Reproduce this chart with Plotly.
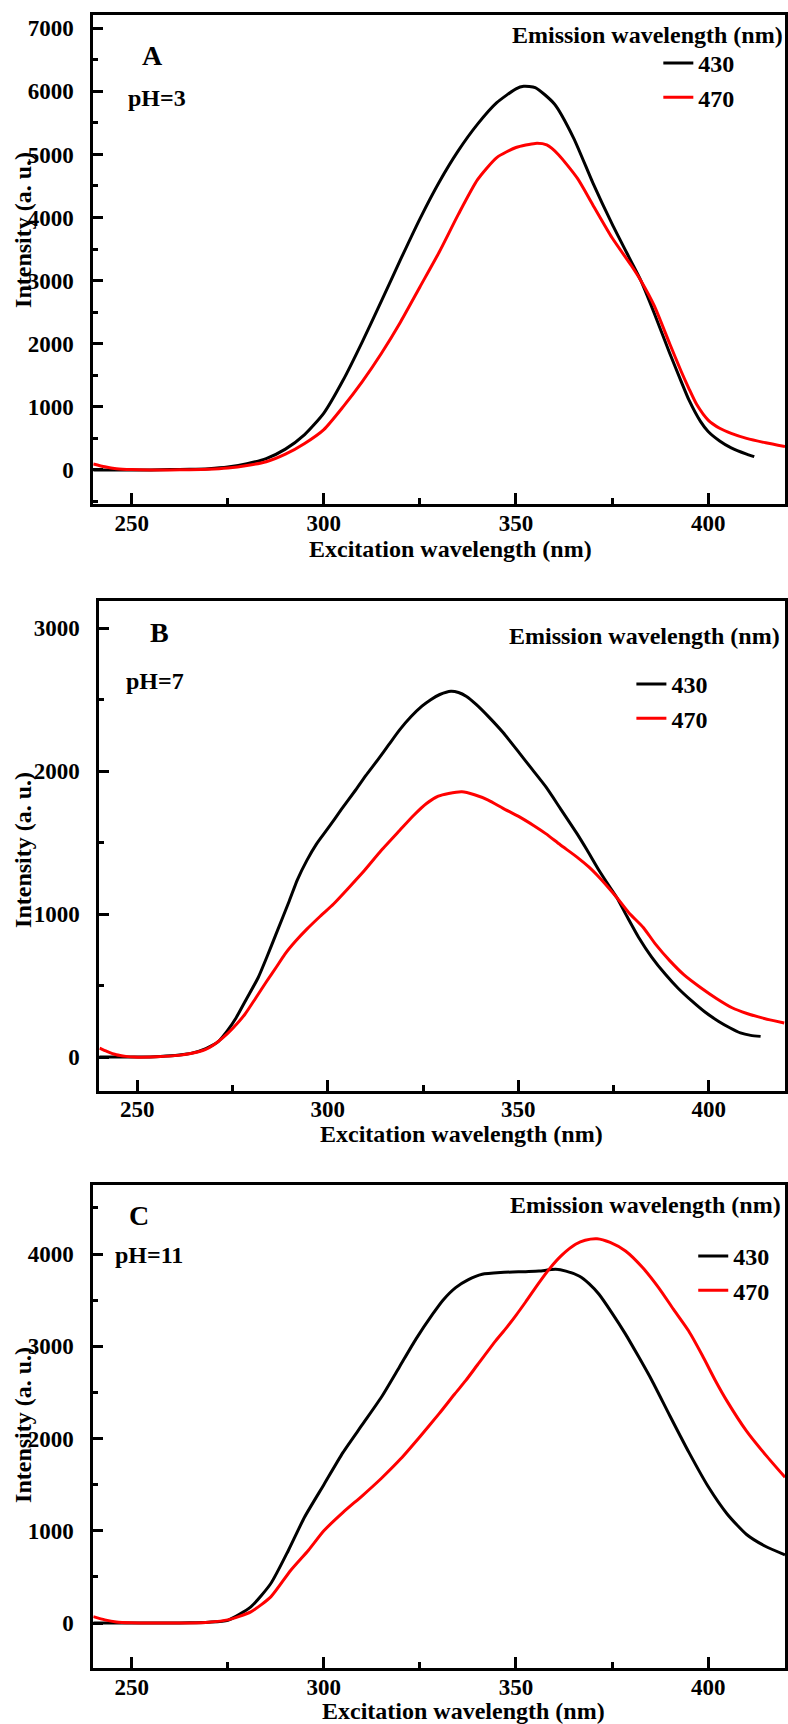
import plotly.graph_objects as go

W, H = 788, 1724
FONT = "Liberation Serif, Times New Roman, serif"

# ---------------- data ----------------
# Panel A, pH = 3
A_x_430 = [240, 245, 250, 255, 260, 265, 270, 275, 280, 285, 290, 295, 300, 305, 310, 315, 320, 325, 330, 335,
           340, 345, 350, 352, 355, 360, 365, 370, 375, 380, 382.5, 386, 390, 393, 395, 398, 400, 403, 406, 410, 412]
A_y_430 = [0, 0, 0, 0, 5, 10, 20, 45, 100, 180, 330, 560, 900, 1420, 2030, 2680, 3340, 3980, 4560, 5060,
           5480, 5820, 6040, 6080, 6060, 5800, 5260, 4550, 3900, 3300, 3000, 2480, 1850, 1400, 1110, 770, 610, 460, 350, 250, 210]
A_x_470 = [240, 243, 246, 250, 255, 260, 265, 270, 275, 280, 285, 290, 295, 300, 305, 310, 315, 320, 325, 330,
           335, 340, 345, 350, 355, 358, 361, 366, 370, 375, 380, 382.5, 386, 390, 393, 395, 397, 400, 403, 406, 410, 415, 420]
A_y_470 = [95, 50, 20, 5, 0, 0, 3, 10, 30, 70, 130, 250, 420, 640, 1000, 1400, 1850, 2350, 2900, 3450,
           4050, 4600, 4950, 5110, 5175, 5150, 5000, 4620, 4200, 3680, 3240, 3000, 2600, 2000, 1560, 1290, 1040, 790, 660, 580, 500, 430, 370]

# Panel B, pH = 7
B_x_430 = [240, 245, 250, 256, 261, 264.3, 268, 271.3, 273.5, 275.9, 278.5, 281.7, 284, 286.4, 289.9, 292, 294.5, 297,
           300.3, 303.5, 307.3, 310, 313.1, 316, 318.9, 321.8, 324.7, 327, 329.4, 332.3, 334.3, 336.3, 339, 342.1, 346,
           350.3, 353.7, 357.2, 361, 365.4, 368, 371.2, 373.5, 375.8, 378.5, 381.6, 385, 388.6, 392, 395.6, 399, 402.5,
           405.5, 408.3, 411, 413.6]
B_y_430 = [0, 0, 0, 5, 15, 28, 60, 110, 180, 274, 400, 555, 700, 860, 1094, 1240, 1376, 1490,
           1610, 1730, 1868, 1970, 2079, 2185, 2290, 2380, 2454, 2500, 2536, 2559, 2550, 2524, 2465, 2383, 2270,
           2126, 2010, 1891, 1740, 1563, 1450, 1305, 1210, 1118, 985, 837, 700, 579, 480, 391, 315, 251,
           205, 169, 152, 145]
B_x_470 = [240.1, 242, 244.5, 247, 249.2, 255, 260.8, 264, 267.8, 270, 272.4, 275, 278.2, 281, 284, 286.5, 288.7, 291.5,
           294.5, 298, 301.5, 305.5, 309.6, 314, 318.9, 322.5, 325.9, 329, 331.7, 335.2, 338.5, 342.1, 346, 350.3, 354,
           357.2, 361, 365.4, 368.5, 371.2, 373.5, 375.8, 379, 382.8, 386, 389.8, 393.5, 397.9, 402, 406.1, 410, 414,
           417, 419.8]
B_y_470 = [63, 40, 16, 5, 0, 3, 12, 25, 52, 85, 134, 200, 298, 410, 532, 630, 719, 810,
           895, 985, 1071, 1185, 1305, 1445, 1587, 1690, 1774, 1825, 1844, 1856, 1835, 1798, 1740, 1680, 1620,
           1563, 1485, 1399, 1330, 1258, 1190, 1118, 1010, 907, 790, 673, 575, 485, 410, 345, 305, 274,
           255, 239]

# Panel C, pH = 11
C_x_430 = [240, 245, 250, 255, 260, 265, 270, 275, 281, 286.2, 290.8, 295, 300, 305, 310, 315, 319.6, 324, 328.3, 331,
           334.3, 337.5, 341.2, 346, 352.5, 356, 360.3, 363, 366.4, 369, 371.6, 375, 378.5, 382, 385.4, 390, 395,
           400, 405, 410, 415, 420]
C_y_430 = [0, 0, 0, 0, 0, 3, 10, 30, 176, 429, 790, 1150, 1500, 1850, 2150, 2450, 2771, 3080, 3348, 3500,
           3636, 3720, 3781, 3800, 3809, 3815, 3834, 3815, 3762, 3680, 3564, 3360, 3132, 2880, 2627, 2250, 1850,
           1480, 1180, 960, 830, 740]
C_x_470 = [240, 243, 246, 250, 255, 260, 265, 270, 275, 281, 286.2, 291.4, 296, 300, 305, 310, 315, 320, 325, 330,
           334, 336.9, 340, 344.7, 347.5, 349.9, 352.5, 355.5, 358.6, 362, 365.5, 368, 371.1, 374.5, 378.5, 383,
           387.1, 391, 394.9, 398.5, 401.9, 405, 410, 415, 420]
C_y_470 = [70, 35, 12, 3, 0, 0, 2, 10, 35, 122, 284, 573, 790, 1000, 1200, 1380, 1570, 1780, 2020, 2270,
           2480, 2627, 2800, 3059, 3200, 3330, 3480, 3660, 3834, 3990, 4105, 4150, 4166, 4125, 4032, 3850,
           3636, 3400, 3168, 2900, 2627, 2400, 2080, 1820, 1580]

series_names = ["430", "470"]
series_colors = ["#000000", "#ff0000"]
panel_labels = ["A", "B", "C"]
ph_labels = ["pH=3", "pH=7", "pH=11"]
legend_title = "Emission wavelength (nm)"
x_title = "Excitation wavelength (nm)"
y_title = "Intensity (a. u.)"
x_tickvals = [250, 300, 350, 400]
y_tickvals = [[0, 1000, 2000, 3000, 4000, 5000, 6000, 7000], [0, 1000, 2000, 3000], [0, 1000, 2000, 3000, 4000]]
y_ranges = [[-540, 7210], [-235, 3192], [-490, 4748]]
x_range = [240, 420]

panels = [
    [(A_x_430, A_y_430), (A_x_470, A_y_470)],
    [(B_x_430, B_y_430), (B_x_470, B_y_470)],
    [(C_x_430, C_y_430), (C_x_470, C_y_470)],
]

# ---------------- layout geometry (pixels) ----------------
def px(x):
    return x / W


def py(y):
    return 1 - y / H


boxes = [  # left, top, right, bottom in pixels
    (93.5, 15, 787, 504),
    (99.5, 600.7, 787, 1090.7),
    (93.5, 1185, 787, 1668.3),
]

fig = go.Figure()
legend_names = ["legend", "legend2", "legend3"]
for i, panel in enumerate(panels):
    suffix = "" if i == 0 else str(i + 1)
    for (xs, ys), name, col in zip(panel, series_names, series_colors):
        fig.add_trace(go.Scatter(
            x=xs, y=ys, mode="lines", name=name,
            line=dict(color=col, width=3, shape="spline", smoothing=0.6),
            xaxis="x" + suffix, yaxis="y" + suffix,
            legend=legend_names[i],
        ))

tickfont = dict(family=FONT, size=23, color="black", weight="bold")
layout = dict(
    width=W, height=H,
    margin=dict(l=0, r=0, t=0, b=0),
    paper_bgcolor="white", plot_bgcolor="white",
    font=dict(family=FONT, color="black"),
    annotations=[],
)

legend_pos = [(660, 41), (633, 662), (695, 1234)]
title_pos = [(787, 35), (784, 636), (785, 1205)]
label_pos = [(153, 55), (160, 632), (139, 1215)]
ph_pos = [(157.5, 98), (155, 681), (149.5, 1255)]
ytitle_pos = [(23, 230), (23, 850), (23, 1425)]
xtitle_pos = [(452, 549), (463, 1134), (465, 1711)]

for i, (l, t, r, b) in enumerate(boxes):
    suffix = "" if i == 0 else str(i + 1)
    layout["xaxis" + suffix] = dict(
        domain=[px(l), px(r)], anchor="y" + suffix, range=x_range,
        showline=True, linewidth=3, linecolor="black", mirror=True,
        ticks="inside", ticklen=11, tickwidth=2.5, tickcolor="black",
        tickvals=x_tickvals, tickfont=tickfont, ticklabelstandoff=-4,
        minor=dict(ticks="inside", ticklen=6, tickwidth=2.5, tickcolor="black", dtick=25, tick0=250),
        showgrid=False, zeroline=False,
    )
    layout["yaxis" + suffix] = dict(
        domain=[py(b), py(t)], anchor="x" + suffix, range=y_ranges[i],
        showline=True, linewidth=3, linecolor="black", mirror=True,
        ticks="inside", ticklen=10, tickwidth=2.5, tickcolor="black",
        tickvals=y_tickvals[i], tickfont=tickfont, ticklabelstandoff=12,
        minor=dict(ticks="inside", ticklen=5, tickwidth=2.5, tickcolor="black", dtick=500, tick0=0),
        showgrid=False, zeroline=False,
    )
    lx, ly = legend_pos[i]
    layout[legend_names[i]] = dict(
        x=px(lx), y=py(ly), xanchor="left", yanchor="top",
        bgcolor="rgba(0,0,0,0)", borderwidth=0,
        font=dict(family=FONT, size=24, color="black", weight="bold"),
        tracegroupgap=0,
    )
    tx, ty = title_pos[i]
    layout["annotations"].append(dict(
        text=legend_title, x=px(tx), y=py(ty), xref="paper", yref="paper",
        xanchor="right", yanchor="middle", showarrow=False,
        font=dict(family=FONT, size=24, color="black", weight="bold")))
    ax, ay = label_pos[i]
    layout["annotations"].append(dict(
        text=panel_labels[i], x=px(ax), y=py(ay), xref="paper", yref="paper",
        xanchor="center", yanchor="middle", showarrow=False,
        font=dict(family=FONT, size=28, color="black", weight="bold")))
    hx, hy = ph_pos[i]
    layout["annotations"].append(dict(
        text=ph_labels[i], x=px(hx), y=py(hy), xref="paper", yref="paper",
        xanchor="center", yanchor="middle", showarrow=False,
        font=dict(family=FONT, size=24, color="black", weight="bold")))
    yx, yy = ytitle_pos[i]
    layout["annotations"].append(dict(
        text=y_title, x=px(yx), y=py(yy), xref="paper", yref="paper",
        xanchor="center", yanchor="middle", showarrow=False, textangle=-90,
        font=dict(family=FONT, size=24, color="black", weight="bold")))
    xx, xy = xtitle_pos[i]
    layout["annotations"].append(dict(
        text=x_title, x=px(xx), y=py(xy), xref="paper", yref="paper",
        xanchor="center", yanchor="middle", showarrow=False,
        font=dict(family=FONT, size=24, color="black", weight="bold")))

fig.update_layout(**layout)
fig.write_html("out.html")
